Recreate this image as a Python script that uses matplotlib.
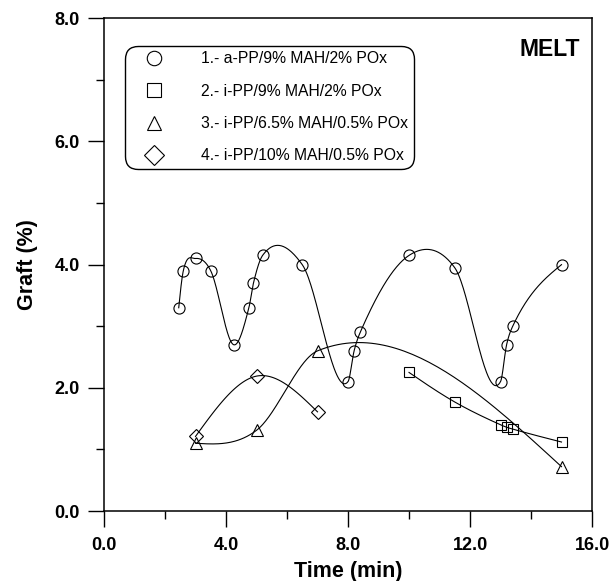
import numpy as np
import matplotlib
matplotlib.use("Agg")
import matplotlib.pyplot as plt
from matplotlib.ticker import MultipleLocator, FormatStrFormatter

plt.rcParams['font.family'] = ['Liberation Sans', 'DejaVu Sans']

# ---- data ----
t1 = [2.45, 2.6, 3.0, 3.5, 4.25, 4.75, 4.9, 5.2, 6.5, 8.0, 8.2, 8.4, 10.0, 11.5, 13.0, 13.2, 13.4, 15.0]
g1 = [3.3, 3.9, 4.1, 3.9, 2.7, 3.3, 3.7, 4.15, 4.0, 2.1, 2.6, 2.9, 4.15, 3.95, 2.1, 2.7, 3.0, 4.0]

t2 = [10.0, 11.5, 13.0, 13.2, 13.4, 15.0]
g2 = [2.25, 1.77, 1.40, 1.36, 1.33, 1.12]

t3 = [3.0, 5.0, 7.0, 15.0]
g3 = [1.10, 1.31, 2.60, 0.72]

t4 = [3.0, 5.0, 7.0]
g4 = [1.21, 2.19, 1.61]

labels = ["1.- a-PP/9% MAH/2% POx",
          "2.- i-PP/9% MAH/2% POx",
          "3.- i-PP/6.5% MAH/0.5% POx",
          "4.- i-PP/10% MAH/0.5% POx"]
markers = ["o", "s", "^", "D"]


def hermite_curve(x, y, per=60):
    """Smooth cubic Hermite curve through the points (finite-difference slopes)."""
    x = np.asarray(x, float)
    y = np.asarray(y, float)
    d = np.diff(y) / np.diff(x)
    m = np.zeros_like(x)
    m[1:-1] = 0.5 * (d[:-1] + d[1:])
    m[0] = 0.5 * (3 * d[0] - m[1]) if len(x) > 2 else d[0]
    m[-1] = 0.5 * (3 * d[-1] - m[-2]) if len(x) > 2 else d[-1]
    xs_all, ys_all = [], []
    for i in range(len(x) - 1):
        h = x[i + 1] - x[i]
        s = np.linspace(0, 1, per)
        h00 = 1 - 3 * s ** 2 + 2 * s ** 3
        h10 = s * (1 - s) ** 2
        h01 = 3 * s ** 2 - 2 * s ** 3
        h11 = s ** 3 - s ** 2
        xs_all.append(x[i] + s * h)
        ys_all.append(h00 * y[i] + h10 * h * m[i] + h01 * y[i + 1] + h11 * h * m[i + 1])
    return np.concatenate(xs_all), np.concatenate(ys_all)


fig = plt.figure(figsize=(6.13, 5.81), dpi=100)
ax = fig.add_axes([104 / 613, 1 - 511 / 581, 488 / 613, (511 - 18.3) / 581])

lw = 0.8
data = [(t1, g1), (t2, g2), (t3, g3), (t4, g4)]
msizes = [8, 7.5, 8, 7.5]
handles = []
for (tx, gy), mk, lab, msz in zip(data, markers, labels, msizes):
    xs, ys = hermite_curve(tx, gy)
    ax.plot(xs, ys, color='black', lw=lw)
    h, = ax.plot(tx, gy, linestyle='none', marker=mk, markersize=msz,
                 markerfacecolor='none', markeredgecolor='black',
                 markeredgewidth=0.8, label=lab)
    handles.append(h)

ax.set_xlim(0, 16)
ax.set_ylim(0, 8)
ax.xaxis.set_major_locator(MultipleLocator(4))
ax.xaxis.set_minor_locator(MultipleLocator(2))
ax.yaxis.set_major_locator(MultipleLocator(2))
ax.yaxis.set_minor_locator(MultipleLocator(1))
ax.xaxis.set_major_formatter(FormatStrFormatter('%.1f'))
ax.yaxis.set_major_formatter(FormatStrFormatter('%.1f'))
ax.tick_params(which='major', direction='out', length=11.5, width=1.0,
               labelsize=13, pad=6)
ax.tick_params(which='minor', direction='out', length=5.8, width=1.0)
ax.tick_params(axis='x', which='major', pad=7)
for lbl in ax.get_xticklabels() + ax.get_yticklabels():
    lbl.set_fontweight('bold')
for sp in ax.spines.values():
    sp.set_linewidth(1.1)

ax.set_xlabel("Time (min)", fontsize=15.5, fontweight='bold', labelpad=5)
ax.set_ylabel("Graft (%)", fontsize=15.5, fontweight='bold', labelpad=12)

ax.text(0.975, 0.96, "MELT", transform=ax.transAxes, ha='right', va='top',
        fontsize=16.5, fontweight='bold')

leg = ax.legend(handles=handles, loc='upper left',
                bbox_to_anchor=((125 - 104) / 488, (511 - 46) / 492.7),
                borderaxespad=0, fontsize=11.3, markerscale=1.3,
                handlelength=3.0, handletextpad=1.5, labelspacing=1.1,
                borderpad=0.35, fancybox=True, framealpha=1,
                edgecolor='black')
leg.get_frame().set_linewidth(1.0)
leg.get_frame().set_boxstyle('round,pad=0,rounding_size=0.8')

fig.savefig('out.png', dpi=100)
